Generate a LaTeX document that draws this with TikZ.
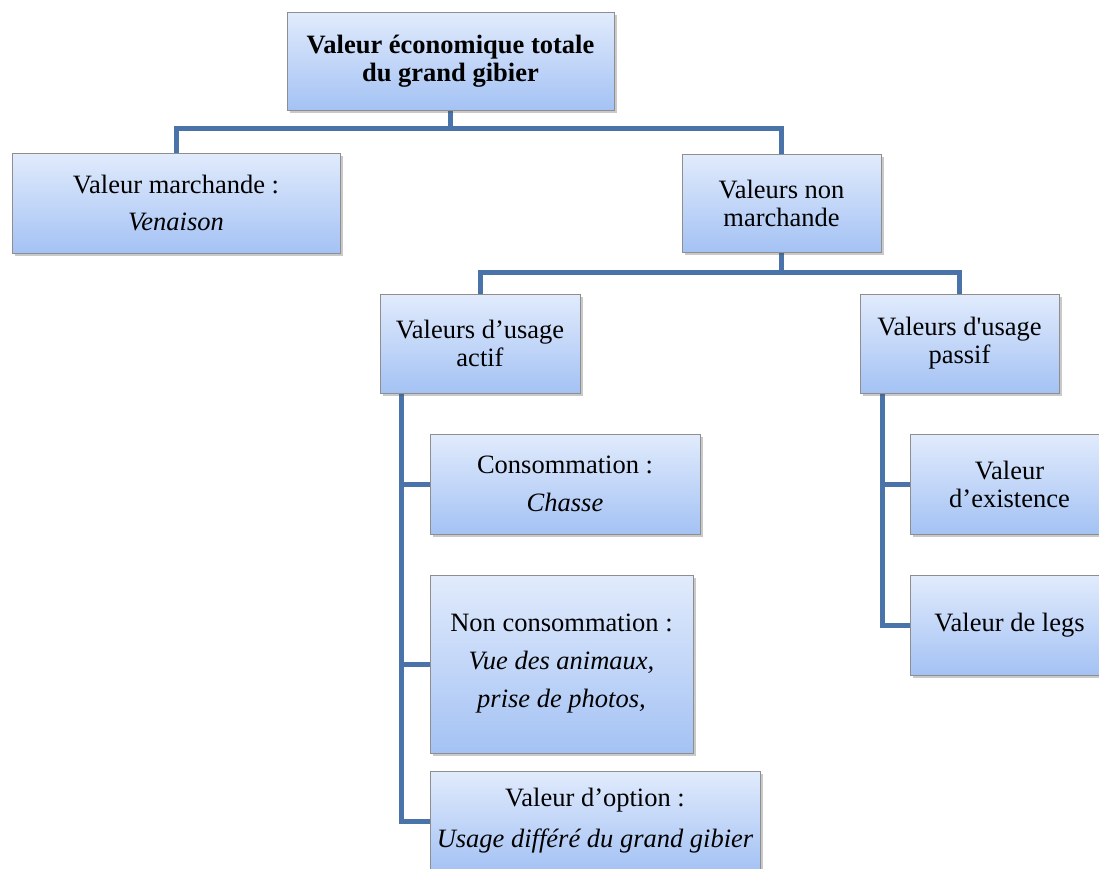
\documentclass[tikz,border=0pt]{standalone}
\usepackage{fontspec}
\setmainfont{Liberation Serif}
\newfontfamily\rawserif{Liberation Serif}
\usetikzlibrary{shadows,backgrounds}
\definecolor{linkc}{HTML}{4A74A9}
\definecolor{boxtop}{HTML}{E1EBFC}
\definecolor{boxbot}{HTML}{A4C2F4}
\definecolor{boxborder}{HTML}{8E8E8E}
\begin{document}
\begin{tikzpicture}[x=1pt,y=-1pt,
  box/.style={draw=boxborder, line width=0.8pt, top color=boxtop, bottom color=boxbot,
    drop shadow={shadow xshift=2.5pt, shadow yshift=-3pt, opacity=0.3, fill=black!70},
    align=center, inner sep=0pt, font=\fontsize{26.5}{28}\selectfont},
  link/.style={draw=linkc, line width=5pt}]
\useasboundingbox (0,0) rectangle (1099,868);
\clip (0,0) rectangle (1099,868);
\node[box, minimum width=327pt, minimum height=98pt] (root) at (450.5,61) {\bfseries Valeur économique totale\\\bfseries du grand gibier};
\node[box, minimum width=328pt, minimum height=100pt] (march) at (176,203) {Valeur marchande :\\[9pt]\itshape Venaison};
\node[box, minimum width=199pt, minimum height=98pt] (nonm) at (781.5,203) {Valeurs non\\marchande};
\node[box, minimum width=200pt, minimum height=99pt] (actif) at (480,343.5) {Valeurs d’usage\\actif};
\node[box, minimum width=199pt, minimum height=99pt] (passif) at (959.5,343.5) {Valeurs d{\rawserif '}usage\\passif};
\node[box, minimum width=270pt, minimum height=100pt] (cons) at (565,484) {Consommation :\\[10pt]\itshape Chasse};
\node[box, minimum width=263pt, minimum height=178pt] (noncons) at (561.5,664) {Non consommation :\\[10pt]\itshape Vue des animaux,\\[10pt]\itshape prise de photos,};
\node[box, minimum width=330pt, minimum height=100pt] (option) at (595,821) {Valeur d’option :\\[13pt]\itshape Usage différé du grand gibier};
\node[box, minimum width=199pt, minimum height=100pt] (exist) at (1009.5,484) {Valeur\\d’existence};
\node[box, minimum width=199pt, minimum height=100pt] (legs) at (1009.5,625) {Valeur de legs};
\coordinate (bus1) at (0,128);
\coordinate (bus2) at (0,272);
\coordinate (vA) at (401,0);
\coordinate (vP) at (882,0);
\begin{scope}[on background layer]
\draw[link] (root.south) -- (root.south |- bus1);
\draw[link] (march.north) -- (march.north |- bus1) -- (nonm.north |- bus1) -- (nonm.north);
\draw[link] (nonm.south) -- (nonm.south |- bus2);
\draw[link] (actif.north) -- (actif.north |- bus2) -- (passif.north |- bus2) -- (passif.north);
\draw[link] (vA |- actif.south) -- (vA |- option.west) -- (option.west);
\draw[link] (vA |- cons.west) -- (cons.west);
\draw[link] (vA |- noncons.west) -- (noncons.west);
\draw[link] (vP |- passif.south) -- (vP |- legs.west) -- (legs.west);
\draw[link] (vP |- exist.west) -- (exist.west);
\end{scope}
\end{tikzpicture}
\end{document}
